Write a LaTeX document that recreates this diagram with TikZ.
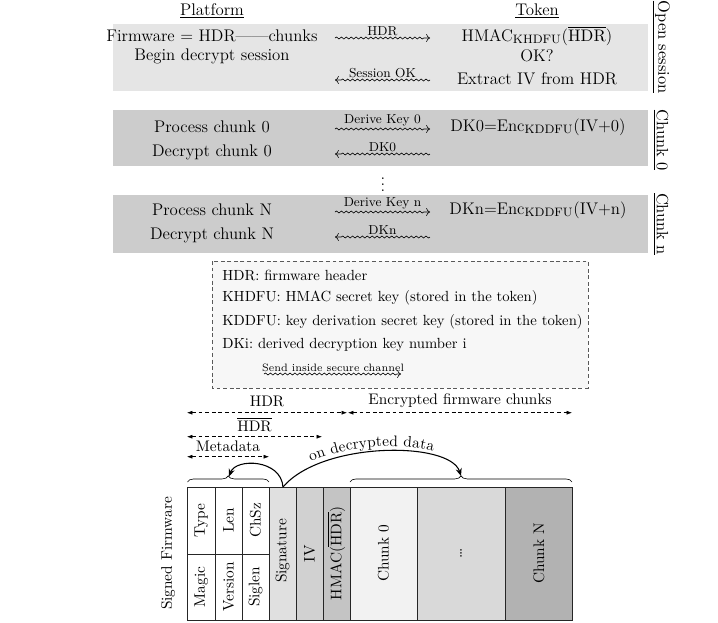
\documentclass[tikz,border=0pt]{standalone}
\usetikzlibrary{decorations.pathmorphing,decorations.pathreplacing,decorations.text,arrows.meta}
\begin{document}
\begin{tikzpicture}[x=0.6536pt,y=-0.6536pt,
 topfont/.style={font=\fontsize{11}{13}\selectfont},
 lbl/.style={font=\fontsize{8.5}{10}\selectfont, inner sep=1.5pt},
 snk/.style={->, decorate, decoration={snake, amplitude=0.65pt, segment length=3.2pt, post length=2.5pt}},
 sidelbl/.style={rotate=-90, font=\fontsize{10.7}{12.8}\selectfont, inner sep=0pt},
 legtext/.style={anchor=west, font=\fontsize{9.6}{11.5}\selectfont, inner sep=0pt},
 dimarrow/.style={dash pattern=on 2.5pt off 1.8pt, {Latex[length=3.5pt,width=2.6pt]}-{Latex[length=3.5pt,width=2.6pt]}},
 brc/.style={decorate, decoration={brace, amplitude=4pt}},
 bendarrow/.style={-{Stealth[length=5pt,width=4pt]}, line width=0.7pt},
 cell/.style={draw=black!85, line width=0.6pt},
 fwtext/.style={rotate=90, inner sep=0pt},
 legbox/.style={draw=black!65, dash pattern=on 2.5pt off 1.8pt, fill=black!3, line width=0.5pt}
]
\useasboundingbox (0,0) rectangle (718,622);

% bands
\fill[black!10] (113,24) rectangle (648,91);
\fill[black!20] (113,110) rectangle (648,166);
\fill[black!20] (113,195) rectangle (648,253);

% headings
\node[topfont] (plat) at (212,11) {\underline{Platform}};
\node[topfont] (tok) at (537,11) {\underline{Token}};

% open session
\node[topfont] (fw) at (212,36) {Firmware = HDR---{}---chunks};
\node[topfont] (begin) at (212,56) {Begin decrypt session};
\node[topfont] (hmac) at (537,36) {HMAC$_{\mathrm{KHDFU}}$($\overline{\mathrm{HDR}}$)};
\node[topfont] (ok) at (537,56) {OK?};
\node[topfont] (iv) at (537,79) {Extract IV from HDR};
\coordinate (a1s) at (335,38); \coordinate (a1e) at (430,38);
\draw[snk] (a1s) -- (a1e);
\path (a1s) -- node[lbl,above] (l1) {HDR} (a1e);
\coordinate (a2s) at (430,80); \coordinate (a2e) at (335,80);
\draw[snk] (a2s) -- (a2e);
\path (a2s) -- node[lbl,above] (l2) {Session OK} (a2e);
\node[sidelbl] (os) at (661,47) {\underline{Open session}};

% chunk 0
\node[topfont] (p0) at (212,127) {Process chunk 0};
\node[topfont] (d0) at (212,152) {Decrypt chunk 0};
\node[topfont] (dk0) at (538,127) {DK0=Enc$_{\mathrm{KDDFU}}$(IV+0)};
\coordinate (b1s) at (335,129); \coordinate (b1e) at (430,129);
\draw[snk] (b1s) -- (b1e);
\path (b1s) -- node[lbl,above] (l3) {Derive Key 0} (b1e);
\coordinate (b2s) at (430,154); \coordinate (b2e) at (335,154);
\draw[snk] (b2s) -- (b2e);
\path (b2s) -- node[lbl,above] (l4) {DK0} (b2e);
\node[sidelbl] (c0) at (661,140) {\underline{Chunk 0}};

\node[topfont] (dots) at (383,180) {$\vdots$};

% chunk n
\node[topfont] (pn) at (212,210) {Process chunk N};
\node[topfont] (dn) at (212,235) {Decrypt chunk N};
\node[topfont] (dkn) at (538,210) {DKn=Enc$_{\mathrm{KDDFU}}$(IV+n)};
\coordinate (c1s) at (335,212); \coordinate (c1e) at (430,212);
\draw[snk] (c1s) -- (c1e);
\path (c1s) -- node[lbl,above] (l5) {Derive Key n} (c1e);
\coordinate (c2s) at (430,237); \coordinate (c2e) at (335,237);
\draw[snk] (c2s) -- (c2e);
\path (c2s) -- node[lbl,above] (l6) {DKn} (c2e);
\node[sidelbl] (cn) at (661,224) {\underline{Chunk n}};

% legend
\draw[legbox] (212,261) rectangle (588,388);
\node[legtext] (g1) at (222,275) {HDR: firmware header};
\node[legtext] (g2) at (222,298) {KHDFU: HMAC secret key (stored in the token)};
\node[legtext] (g3) at (222,322) {KDDFU: key derivation secret key (stored in the token)};
\node[legtext] (g4) at (222,345) {DKi:\ derived decryption key number i};
\node[font=\scriptsize, inner sep=0pt] (send) at (333,368) {Send inside secure channel};
\coordinate (s1) at (264,374); \coordinate (s2) at (401,374);
\draw[snk] (s1) -- (s2);

% dimension arrows
\coordinate (h1) at (187,412.7); \coordinate (h2) at (347,412.7);
\coordinate (e1) at (348,412.7); \coordinate (e2) at (572,412.7);
\coordinate (o1) at (187,436.7); \coordinate (o2) at (322,436.7);
\coordinate (m1) at (187,456.7); \coordinate (m2) at (269,456.7);
\draw[dimarrow] (h1) -- node[above] (hl) {HDR} (h2);
\draw[dimarrow] (e1) -- node[above] (el) {Encrypted firmware chunks} (e2);
\draw[dimarrow] (o1) -- node[above] (ol) {$\overline{\mathrm{HDR}}$} (o2);
\draw[dimarrow] (m1) -- node[above] (ml) {Metadata} (m2);

% braces
\coordinate (br1a) at (187.5,482); \coordinate (br1b) at (269,482);
\coordinate (br2a) at (350,482); \coordinate (br2b) at (572,482);
\draw[brc] (br1a) -- (br1b);
\draw[brc] (br2a) -- (br2b);
\coordinate (tip1) at (229,476.5);
\coordinate (tip2) at (461,476);
\coordinate (sigtop) at (283,487);

% table
\fill[black!12] (269,487) rectangle (296,620);
\fill[black!18] (296,487) rectangle (323,620);
\fill[black!23] (323,487) rectangle (350,620);
\fill[black!5] (350,487) rectangle (417,620);
\fill[black!15] (417,487) rectangle (505.5,620);
\fill[black!30] (505.5,487) rectangle (572,620);
\draw[cell] (187.5,487) rectangle (572,620);
\foreach \xx in {215,242,269,296,323,350,417,505.5} \draw[cell] (\xx,487) -- (\xx,620);
\draw[cell] (187.5,554) -- (269,554);

\node[fwtext] (ty) at (201.25,520.5) {Type};
\node[fwtext] (mg) at (201.25,587) {Magic};
\node[fwtext] (le) at (228.5,520.5) {Len};
\node[fwtext] (ve) at (228.5,587) {Version};
\node[fwtext] (cs) at (255.5,520.5) {ChSz};
\node[fwtext] (sl) at (255.5,587) {Siglen};
\node[fwtext] (sg) at (282.5,551) {Signature};
\node[fwtext] (ivc) at (309.5,553.5) {IV};
\node[fwtext] (hm) at (336.5,553.5) {HMAC($\overline{\mathrm{HDR}}$)};
\node[fwtext] (ch0) at (383.5,553.5) {Chunk 0};
\node[fwtext] (chd) at (461,553.5) {\dots};
\node[fwtext] (chn) at (539,553.5) {Chunk N};
\node[fwtext] (sfw) at (168,553.5) {Signed Firmware};

% curved arrows
\draw[bendarrow] (sigtop) .. controls (281,459) and (236,458) .. (tip1);
\draw[bendarrow] (sigtop) .. controls (322,441) and (450,441) .. (tip2);
\path[decorate, decoration={text along path, text={on decrypted data}, text align=center, raise=3pt}]
  (sigtop) .. controls (322,441) and (450,441) .. (tip2);
\end{tikzpicture}
\end{document}
